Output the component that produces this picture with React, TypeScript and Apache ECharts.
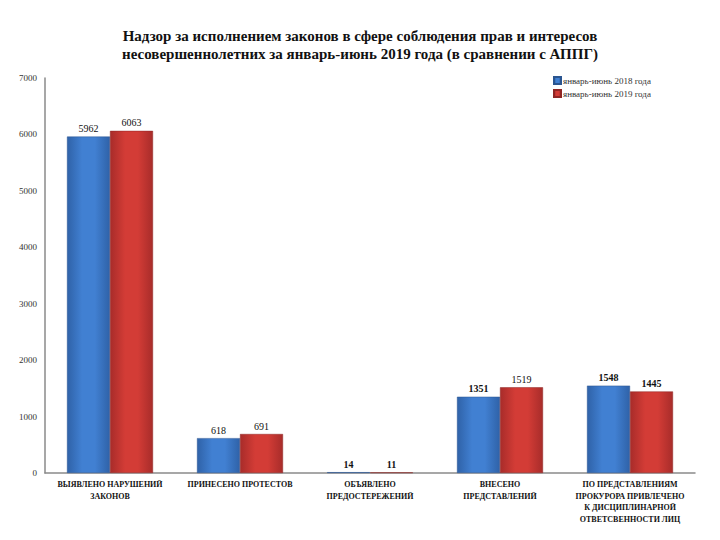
import React, { useEffect, useRef } from "react";
import * as echarts from "echarts";

const categories = [
  "ВЫЯВЛЕНО НАРУШЕНИЙ\nЗАКОНОВ",
  "ПРИНЕСЕНО ПРОТЕСТОВ",
  "ОБЪЯВЛЕНО\nПРЕДОСТЕРЕЖЕНИЙ",
  "ВНЕСЕНО\nПРЕДСТАВЛЕНИЙ",
  "ПО ПРЕДСТАВЛЕНИЯМ\nПРОКУРОРА ПРИВЛЕЧЕНО\nК ДИСЦИПЛИНАРНОЙ\nОТВЕТСВЕННОСТИ ЛИЦ",
];
const seriesNames = ["январь-июнь 2018 года", "январь-июнь 2019 года"];
const values2018 = [5962, 618, 14, 1351, 1548];
const values2019 = [6063, 691, 11, 1519, 1445];
const bold2018 = [false, false, true, true, true];
const bold2019 = [false, false, true, false, true];

const SERIF = "Times New Roman";

function grad(edge: string, mid: string) {
  return new echarts.graphic.LinearGradient(0, 0, 1, 0, [
    { offset: 0, color: edge },
    { offset: 0.35, color: mid },
    { offset: 0.65, color: mid },
    { offset: 1, color: edge },
  ]);
}

export default function App() {
  const ref = useRef<HTMLDivElement>(null);
  useEffect(() => {
    if (!ref.current) return;
    const chart = echarts.init(ref.current, null, { renderer: "svg" });
    const mk = (vals: number[], bolds: boolean[]) =>
      vals.map((v, i) => ({
        value: v,
        label: { fontWeight: bolds[i] ? "bold" : "normal" },
      }));
    chart.setOption({
      animation: false,
      backgroundColor: "#ffffff",
      textStyle: { fontFamily: SERIF },
      title: {
        text: "Надзор за исполнением законов в сфере соблюдения прав и интересов\nнесовершеннолетних за январь-июнь 2019 года (в сравнении с АППГ)",
        left: "center",
        top: 22,
        textStyle: {
          fontFamily: SERIF,
          fontSize: 15,
          fontWeight: "bold",
          color: "#111",
          lineHeight: 18,
        },
      },
      legend: {
        orient: "vertical",
        left: 548,
        top: 71,
        itemWidth: 7,
        itemHeight: 7,
        itemGap: 4,
        icon: "rect",
        textStyle: { fontFamily: SERIF, fontSize: 9, color: "#333", padding: [0, 0, 0, -3] },
        data: seriesNames,
      },
      grid: { left: 45, right: 25, top: 78, bottom: 67, containLabel: false },
      xAxis: {
        type: "category",
        data: categories,
        axisLine: { lineStyle: { color: "#8a8a8a", width: 1.5 } },
        axisTick: { show: false },
        axisLabel: {
          interval: 0,
          fontFamily: SERIF,
          fontSize: 8,
          fontWeight: "bold",
          color: "#111",
          lineHeight: 11.5,
          margin: 6,
        },
      },
      yAxis: {
        type: "value",
        min: 0,
        max: 7000,
        interval: 1000,
        splitLine: { show: false },
        axisLine: { show: true, lineStyle: { color: "#8a8a8a", width: 1.5 } },
        axisTick: { show: false },
        axisLabel: {
          fontFamily: SERIF,
          fontSize: 9,
          color: "#333",
          margin: 8,
          formatter: (v: number) => String(v),
        },
      },
      series: [
        {
          name: seriesNames[0],
          type: "bar",
          data: mk(values2018, bold2018),
          barWidth: 43,
          barGap: "0%",
          itemStyle: { color: grad("#2f62a8", "#4180d2"), borderColor: "#2a5590", borderWidth: 0.5 },
          label: { show: true, position: "top", fontFamily: SERIF, fontSize: 10, color: "#111", distance: 3 },
        },
        {
          name: seriesNames[1],
          type: "bar",
          data: mk(values2019, bold2019),
          barWidth: 43,
          barGap: "0%",
          itemStyle: { color: grad("#a82c2a", "#d33c36"), borderColor: "#8f2624", borderWidth: 0.5 },
          label: { show: true, position: "top", fontFamily: SERIF, fontSize: 10, color: "#111", distance: 3 },
        },
      ],
      color: ["#3f74b8", "#c0393a"],
    });
    return () => chart.dispose();
  }, []);
  return <div ref={ref} style={{ width: 720, height: 540, position: "absolute", left: 0, top: 0 }} />;
}
